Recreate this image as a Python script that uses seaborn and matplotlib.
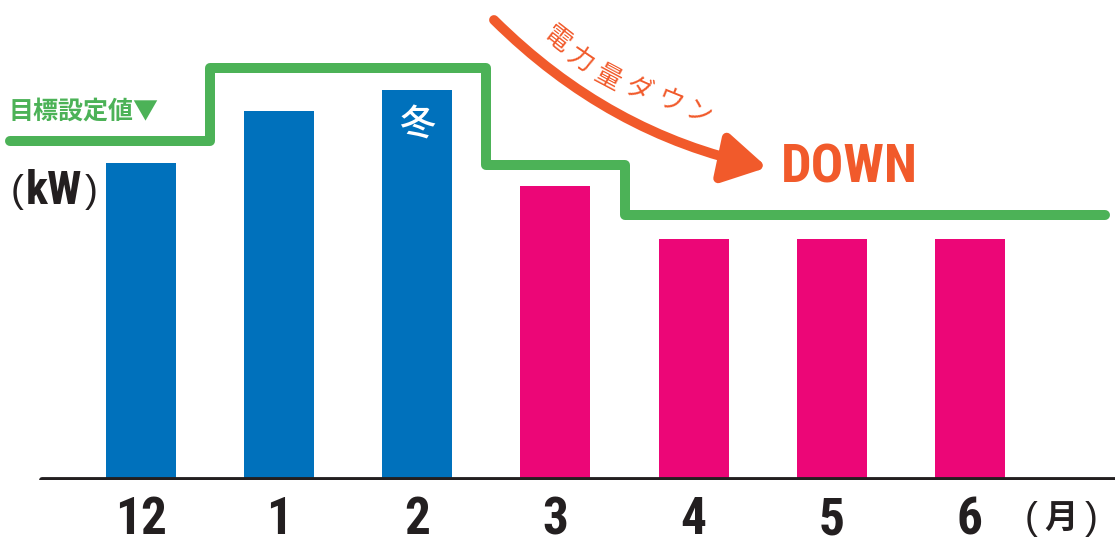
import matplotlib
matplotlib.use("Agg")
import matplotlib.pyplot as plt
import seaborn as sns
import pandas as pd
from matplotlib.patches import FancyArrowPatch

# Data (kW in arbitrary units)
months = ["12", "1", "2", "3", "4", "5", "6"]
usage = [317, 369, 390, 294, 241, 241, 241]
season = ["winter", "winter", "winter", "spring", "spring", "spring", "spring"]
target = [339, 412, 412, 315, 265, 265, 265]

BLUE = "#0071BC"
PINK = "#EC0677"
GREEN = "#4CB257"
ORANGE = "#F15A2B"
INK = "#231F20"

COND = ["Roboto Condensed", "Liberation Sans", "DejaVu Sans"]

sns.set_theme(style="white")
plt.rcParams["font.family"] = ["Noto Sans CJK JP", "DejaVu Sans"]

W, H = 1115, 540
fig = plt.figure(figsize=(W / 100, H / 100), dpi=100)
ax = fig.add_axes([0, 60 / H, 1, 480 / H])


def fx(x):
    return x / W


def fy(y):
    return 1 - y / H


df = pd.DataFrame({"month": months, "kW": usage, "season": season})
sns.barplot(data=df, x="month", y="kW", hue="season", order=months,
            palette={"winter": BLUE, "spring": PINK}, dodge=False,
            width=0.506, saturation=1, legend=False, linewidth=0, ax=ax)

# target line (stepped)
xs = [-0.948] + list(range(len(months))) + [6.975]
ys = [target[0]] + target + [target[-1]]
ax.plot(xs, ys, drawstyle="steps-mid", color=GREEN, lw=7.2,
        solid_capstyle="round", solid_joinstyle="round", zorder=4)

ax.axhline(0, xmin=42 / W, xmax=1, color=INK, lw=4.2, zorder=5)

ax.set_xlim(-1.02, 7.05)
ax.set_ylim(0, 480)
ax.set_yticks([])
ax.set_xlabel("")
ax.set_ylabel("")
sns.despine(ax=ax, left=True, bottom=True)
ax.tick_params(axis="x", length=0, pad=11)
for lab in ax.get_xticklabels():
    lab.set_fontsize(37)
    lab.set_fontweight("bold")
    lab.set_family(COND)
    lab.set_color(INK)

# (月)
fig.text(fx(1031), fy(519), "(", fontsize=28, color=INK, ha="center",
         va="center", family=["Liberation Sans", "DejaVu Sans"])
fig.text(fx(1061), fy(519), "月", fontsize=24, fontweight="bold",
         color=INK, ha="center", va="center")
fig.text(fx(1091), fy(519), ")", fontsize=28, color=INK, ha="center",
         va="center", family=["Liberation Sans", "DejaVu Sans"])

# labels
fig.text(fx(9), fy(112), "目標設定値▼", fontsize=18, fontweight="bold",
         color=GREEN, ha="left", va="center")
fig.text(fx(17), fy(192), "(", fontsize=28, color=INK, ha="center",
         va="center", family=["Liberation Sans", "DejaVu Sans"])
fig.text(fx(54), fy(191), "kW", fontsize=33, fontweight="bold", color=INK,
         ha="center", va="center", family=COND)
fig.text(fx(91), fy(192), ")", fontsize=28, color=INK, ha="center",
         va="center", family=["Liberation Sans", "DejaVu Sans"])

fig.text(fx(417), fy(126), "冬", fontsize=26, fontweight="medium",
         color="white", ha="center", va="center")

# down arrow
arrow = FancyArrowPatch((fx(492), fy(18)), (fx(770), fy(168)),
                        transform=fig.transFigure,
                        connectionstyle="arc3,rad=0.15",
                        arrowstyle="-|>,head_length=26,head_width=15",
                        mutation_scale=1, color=ORANGE, lw=7,
                        capstyle="round")
fig.patches.append(arrow)

chars = ["電", "力", "量", "ダ", "ウ", "ン"]
char_pos = [(557, 40), (580, 60), (608, 78), (638, 90), (670, 102), (698, 113)]
char_rot = [-38, -34, -28, -24, -22, -21]
for c, (px, py), r in zip(chars, char_pos, char_rot):
    fig.text(fx(px), fy(py), c, fontsize=19, color=ORANGE, rotation=r,
             ha="center", va="center", rotation_mode="anchor")

fig.text(fx(781), fy(168), "DOWN", fontsize=39, fontweight="bold",
         color=ORANGE, ha="left", va="center", family=COND)

fig.savefig("out.png", dpi=100, facecolor="white")
